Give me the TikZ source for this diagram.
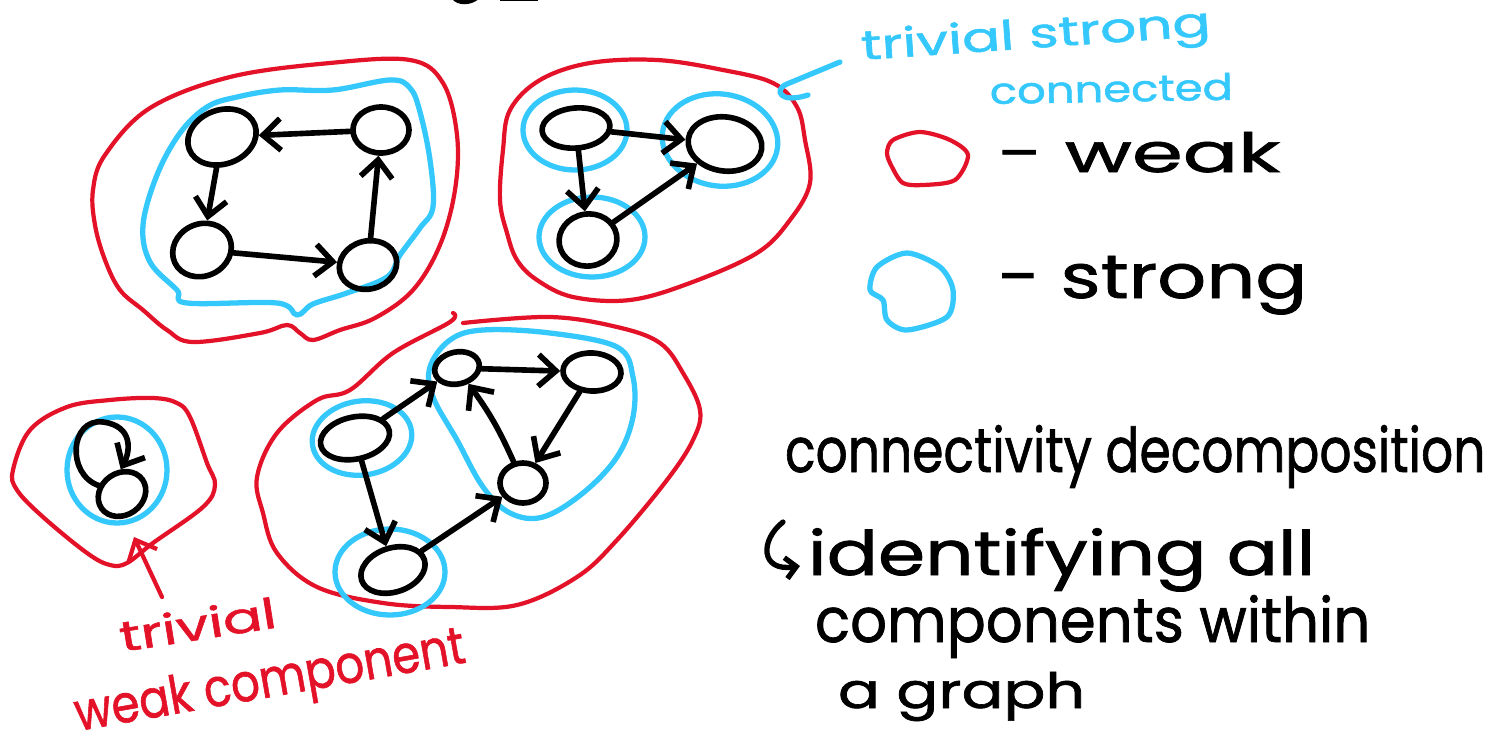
\documentclass[tikz,border=0pt]{standalone}
\usepackage{fontspec}
\setmainfont{Poppins}[FakeBold=1.2]
\usepackage{graphicx}
\usetikzlibrary{shapes.geometric,arrows.meta}
\definecolor{inkred}{RGB}{228,18,40}
\definecolor{inkblue}{RGB}{52,200,252}
% stretch a handwritten-style label to a given width and height
\newcommand\inkfit[3]{\resizebox{#1}{#2}{#3}}
\tikzset{
  vtx/.style={ellipse, draw=black, line width=1.6pt, inner sep=0pt},
  edge/.style={draw=black, line width=1.6pt, line cap=round, line join=round,
    -{Straight Barb[length=5pt,width=9pt]}},
  weakline/.style={draw=inkred, line width=1.2pt, line cap=round, line join=round},
  strongline/.style={draw=inkblue, line width=1.5pt, line cap=round, line join=round},
  inktext/.style={inner sep=0pt, outer sep=0pt, anchor=base west},
}
\begin{document}
\begin{tikzpicture}[x=0.01cm,y=-0.01cm]
\fill[white] (0,0) rectangle (1502,748);
\useasboundingbox (0,0) rectangle (1502,748);

% strokes of a heading cut off at the top edge
\fill[black] (452,-1) .. controls (458,6) and (470,6) .. (479,-1) -- cycle;
\fill[black] (500,-1) rectangle (538,1);

% ---------- component 1: a directed 4-cycle ----------
\draw[weakline] plot[smooth cycle, tension=0.6] coordinates {
  (410,60) (443,83) (457,135) (455,190) (440,245) (413,290) (375,318) (340,330)
  (313,340) (300,333) (287,325) (260,333) (193,342) (167,330) (143,310) (120,290)
  (105,260) (95,225) (93,190) (105,155) (150,108) (230,77) (330,63)};
\draw[strongline] plot[smooth cycle, tension=0.6] coordinates {
  (390,80) (410,88) (420,112) (430,160) (433,207) (420,228) (400,255) (387,277)
  (347,293) (313,304) (297,315) (277,303) (187,303) (177,290) (150,262) (143,225)
  (157,175) (180,133) (207,107) (237,97) (280,90) (333,90)};
\node[vtx, minimum width=0.70cm, minimum height=0.54cm, rotate=20] (ga) at (222,137) {};
\node[vtx, minimum width=0.56cm, minimum height=0.46cm] (gb) at (381,130) {};
\node[vtx, minimum width=0.60cm, minimum height=0.52cm, rotate=25] (gc) at (202,250) {};
\node[vtx, minimum width=0.58cm, minimum height=0.48cm, rotate=15] (gd) at (368,265) {};
\draw[edge] (gb) -- (ga);
\draw[edge] (ga) -- (gc);
\draw[edge] (gc) -- (gd);
\draw[edge] (gd) -- (gb);

% ---------- component 2: three single-vertex strong parts ----------
\draw[weakline] plot[smooth cycle, tension=0.6] coordinates {
  (510,110) (540,80) (590,63) (657,60) (723,70) (773,83) (797,107) (805,140)
  (810,183) (790,220) (757,253) (690,283) (630,300) (573,297) (537,280) (517,260)
  (507,233) (500,200) (503,150)};
\draw[strongline] (575,130) ellipse [x radius=52, y radius=40];
\draw[strongline, rotate around={-8:(720,140)}] (720,140) ellipse [x radius=58, y radius=46];
\draw[strongline] (592,237) ellipse [x radius=53, y radius=40];
\node[vtx, minimum width=0.68cm, minimum height=0.40cm, rotate=5] (ha) at (576,128) {};
\node[vtx, minimum width=0.74cm, minimum height=0.54cm, rotate=-8] (hb) at (725,144) {};
\node[vtx, minimum width=0.58cm, minimum height=0.52cm, rotate=10] (hc) at (588,240) {};
\draw[edge] (ha) -- (hb);
\draw[edge] (ha) -- (hc);
\draw[edge] (hc) -- (hb);

% ---------- component 3: a lone vertex with a self-loop ----------
\draw[weakline] plot[smooth cycle, tension=0.6] coordinates {
  (13,470) (30,430) (67,407) (110,400) (153,398) (177,403) (190,417) (207,463)
  (215,485) (203,507) (153,543) (127,563) (110,565) (87,553) (43,517) (17,490)};
\draw[strongline] (117,470) ellipse [x radius=50, y radius=53];
\node[vtx, minimum width=0.50cm, minimum height=0.42cm, rotate=35] (s) at (122,494) {};
\draw[edge] (s.125) .. controls (66,474) and (70,418) .. (103,422)
  .. controls (134,426) and (130,452) .. (s.58);

% ---------- component 4: mixed strong parts ----------
\draw[weakline] plot[smooth, tension=0.6] coordinates {
  (463,323) (550,317) (617,327) (660,343) (683,373) (700,410) (693,440) (667,480)
  (617,540) (577,577) (517,605) (450,607) (383,603) (317,587) (277,553) (263,513)
  (257,477) (277,433) (317,400) (350,390) (393,353) (450,322) (453,313)};
\draw[strongline] plot[smooth cycle, tension=0.6] coordinates {
  (430,367) (450,340) (483,330) (550,333) (617,347) (633,377) (633,417) (617,457)
  (583,493) (543,517) (510,513) (483,487) (457,440) (433,397)};
\draw[strongline, rotate around={8:(362,438)}] (362,438) ellipse [x radius=50, y radius=37];
\draw[strongline] (390,572) ellipse [x radius=55, y radius=43];
\node[vtx, minimum width=0.70cm, minimum height=0.42cm, rotate=12] (qa) at (355,438) {};
\node[vtx, minimum width=0.45cm, minimum height=0.32cm, rotate=12] (qb) at (457,368) {};
\node[vtx, minimum width=0.58cm, minimum height=0.38cm, rotate=-3] (qc) at (592,372) {};
\node[vtx, minimum width=0.46cm, minimum height=0.40cm] (qe) at (523,483) {};
\node[vtx, minimum width=0.66cm, minimum height=0.44cm, rotate=18] (qd) at (393,570) {};
\draw[edge] (qa) -- (qb);
\draw[edge] (qa) -- (qd);
\draw[edge] (qd) -- (qe);
\draw[edge] (qb) -- (qc);
\draw[edge] (qc) -- (qe);
\draw[edge] (qe) to[bend right=6] (qb);

% ---------- legend ----------
\draw[weakline] plot[smooth cycle, tension=0.5] coordinates {
  (887,153) (893,140) (920,132) (950,140) (968,155) (955,180) (923,185) (903,183) (892,167)};
\draw[strongline] plot[smooth cycle, tension=0.5] coordinates {
  (870,290) (877,267) (907,253) (940,267) (953,290) (947,317) (907,330) (887,320) (883,300)};
\node[inktext] (lw) at (998,172) {\inkfit{2.82cm}{0.40cm}{-\ weak}};
\node[inktext] (ls) at (998,298) {\inkfit{3.09cm}{0.42cm}{-\ strong}};

% ---------- notes ----------
\node[inktext, text=inkblue, rotate=4] (ts) at (862,60) {\inkfit{3.5cm}{0.31cm}{trivial strong}};
\node[inktext, text=inkblue, rotate=1] (tc) at (990,104) {\inkfit{2.43cm}{0.27cm}{connected}};
\coordinate (ba0) at (840,62);
\coordinate (ba1) at (787,84);
\draw[strongline] (ba0) -- (ba1) .. controls (773,90) and (780,104) .. (808,95);

\node[inktext, text=inkred, rotate=9] (rt) at (122,652) {\inkfit{1.58cm}{0.32cm}{trivial}};
\node[inktext, text=inkred, rotate=10] (rw) at (78,731) {\inkfit{3.95cm}{0.39cm}{weak component}};
\coordinate (ra0) at (162,597);
\coordinate (ra1) at (134,537);
\draw[weakline, -{Straight Barb[length=5pt,width=9pt]}] (ra0) -- (ra1);

\node[inktext] (t1) at (785,472) {\inkfit{7.0cm}{0.47cm}{connectivity decomposition}};
\coordinate (hk0) at (783,522);
\coordinate (hk1) at (800,566);
\draw[black, line width=1.5pt, line cap=round, -{Straight Barb[length=3pt,width=6pt]}]
  (hk0) .. controls (760,540) and (760,572) .. (hk1);
\node[inktext] (t2) at (808,575) {\inkfit{5.07cm}{0.47cm}{identifying all}};
\node[inktext] (t3) at (815,642) {\inkfit{5.55cm}{0.47cm}{components within}};
\node[inktext] (t4) at (838,708) {\inkfit{2.47cm}{0.36cm}{a graph}};
\end{tikzpicture}
\end{document}
